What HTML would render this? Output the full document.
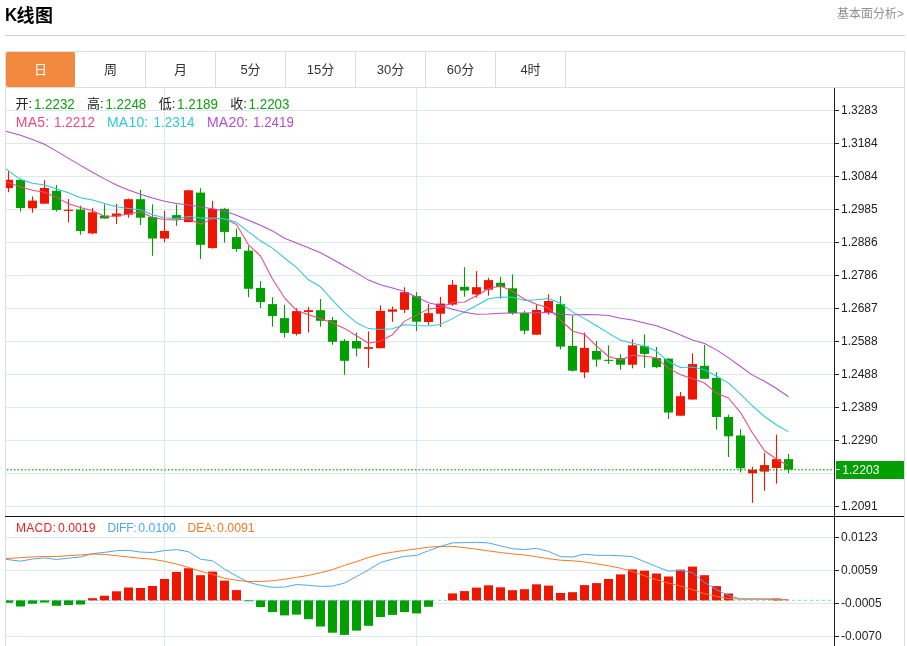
<!DOCTYPE html>
<html lang="zh"><head><meta charset="utf-8"><title>K线图</title>
<style>
html,body{margin:0;padding:0;background:#fff}
body{width:907px;height:646px;position:relative;overflow:hidden;font-family:"Liberation Sans","Noto Sans CJK SC",sans-serif;color:#222}
.title{position:absolute;left:5px;top:4px;font-size:18px;font-weight:bold;line-height:24px;color:#000;letter-spacing:-0.3px}
.k{display:inline-block;transform:translateY(-1px) scale(0.93,1.06);transform-origin:0 80%;margin-right:-1.3px}
.x{letter-spacing:0.5px}
.more{position:absolute;right:3px;top:5px;font-size:12px;line-height:18px;color:#8f8f8f}
.hr{position:absolute;left:5px;top:35px;width:900px;height:1px;background:#cfcfcf}
.box{position:absolute;left:5px;top:51px;width:898px;height:700px;border:1px solid #ddd}
.tabs{height:35px;border-bottom:1px solid #ddd;display:flex}
.tab{width:69px;height:35px;border-right:1px solid #ddd;text-align:center;line-height:35px;font-size:13px;color:#333}
.tab.on{background:#f2893e;color:#fff;border-radius:2px;border-right-color:#fff}
</style></head><body>
<div class="title"><span class="k">K</span><span class="x">线</span>图</div>
<div class="more">基本面分析&gt;</div>
<div class="hr"></div>
<div class="box"><div class="tabs"><div class="tab on">日</div><div class="tab">周</div><div class="tab">月</div><div class="tab">5分</div><div class="tab">15分</div><div class="tab">30分</div><div class="tab">60分</div><div class="tab">4时</div></div></div>
<svg width="907" height="558" viewBox="0 88 907 558" style="position:absolute;left:0;top:88px;display:block" font-family="'Liberation Sans','Noto Sans CJK SC',sans-serif">
<defs><clipPath id="cp"><rect x="6" y="88" width="828" height="558"/></clipPath></defs>
<g stroke="#dde9f1" stroke-width="1" shape-rendering="crispEdges">
<line x1="6" x2="834" y1="110.5" y2="110.5"/>
<line x1="6" x2="834" y1="143.5" y2="143.5"/>
<line x1="6" x2="834" y1="176.5" y2="176.5"/>
<line x1="6" x2="834" y1="209.5" y2="209.5"/>
<line x1="6" x2="834" y1="242.5" y2="242.5"/>
<line x1="6" x2="834" y1="275.5" y2="275.5"/>
<line x1="6" x2="834" y1="308.5" y2="308.5"/>
<line x1="6" x2="834" y1="341.5" y2="341.5"/>
<line x1="6" x2="834" y1="374.5" y2="374.5"/>
<line x1="6" x2="834" y1="407.5" y2="407.5"/>
<line x1="6" x2="834" y1="440.5" y2="440.5"/>
<line x1="6" x2="834" y1="473.5" y2="473.5"/>
<line x1="6" x2="834" y1="506.5" y2="506.5"/>
<line x1="6" x2="834" y1="537.5" y2="537.5"/>
<line x1="6" x2="834" y1="570.5" y2="570.5"/>
<line x1="6" x2="834" y1="603.5" y2="603.5"/>
<line x1="6" x2="834" y1="636.5" y2="636.5"/>
<line x1="164.5" x2="164.5" y1="88" y2="646"/>
<line x1="416.5" x2="416.5" y1="88" y2="646"/>
</g>
<line x1="6" x2="832" y1="600.4" y2="600.4" stroke="#9fd6f2" stroke-width="1.2" stroke-dasharray="3 3"/>
<g clip-path="url(#cp)">
<path d="M8.5 171.2V192.2" stroke="#ee1600" stroke-width="1.1" fill="none"/>
<rect x="4" y="179.8" width="9" height="8.4" fill="#ee1600"/>
<path d="M20.5 178.5V211.6" stroke="#00a000" stroke-width="1.1" fill="none"/>
<rect x="16" y="179.8" width="9" height="28.2" fill="#00a000"/>
<path d="M32.5 196.4V212.7" stroke="#ee1600" stroke-width="1.1" fill="none"/>
<rect x="28" y="200.6" width="9" height="7.7" fill="#ee1600"/>
<path d="M44.5 180.2V203.7" stroke="#ee1600" stroke-width="1.1" fill="none"/>
<rect x="40" y="188" width="9" height="15.7" fill="#ee1600"/>
<path d="M56.5 184.9V211.6" stroke="#00a000" stroke-width="1.1" fill="none"/>
<rect x="52" y="190.8" width="9" height="19.2" fill="#00a000"/>
<path d="M68.5 199V222.4" stroke="#ee1600" stroke-width="1.1" fill="none"/>
<rect x="64" y="209.7" width="9" height="1.2" fill="#ee1600"/>
<path d="M80.5 205.6V234.8" stroke="#00a000" stroke-width="1.1" fill="none"/>
<rect x="76" y="209.6" width="9" height="21.4" fill="#00a000"/>
<path d="M92.5 207.9V234.1" stroke="#ee1600" stroke-width="1.1" fill="none"/>
<rect x="88" y="212.3" width="9" height="21.1" fill="#ee1600"/>
<path d="M104.5 204.3V218.5" stroke="#00a000" stroke-width="1.1" fill="none"/>
<rect x="100" y="215.6" width="9" height="2.9" fill="#00a000"/>
<path d="M116.5 203.8V224" stroke="#ee1600" stroke-width="1.1" fill="none"/>
<rect x="112" y="213.5" width="9" height="3" fill="#ee1600"/>
<path d="M128.5 198.5V217.7" stroke="#ee1600" stroke-width="1.1" fill="none"/>
<rect x="124" y="199.2" width="9" height="15.5" fill="#ee1600"/>
<path d="M140.5 189.9V225" stroke="#00a000" stroke-width="1.1" fill="none"/>
<rect x="136" y="199.2" width="9" height="18.5" fill="#00a000"/>
<path d="M152.5 204.2V255.8" stroke="#00a000" stroke-width="1.1" fill="none"/>
<rect x="148" y="217" width="9" height="21.5" fill="#00a000"/>
<path d="M164.5 210.7V242.2" stroke="#ee1600" stroke-width="1.1" fill="none"/>
<rect x="160" y="230.9" width="9" height="7.7" fill="#ee1600"/>
<path d="M176.5 204.5V225.9" stroke="#00a000" stroke-width="1.1" fill="none"/>
<rect x="172" y="215.1" width="9" height="4.2" fill="#00a000"/>
<path d="M188.5 189.9V222.1" stroke="#ee1600" stroke-width="1.1" fill="none"/>
<rect x="184" y="190.3" width="9" height="31.8" fill="#ee1600"/>
<path d="M200.5 188.2V259" stroke="#00a000" stroke-width="1.1" fill="none"/>
<rect x="196" y="192.6" width="9" height="52.2" fill="#00a000"/>
<path d="M212.5 200.9V248.5" stroke="#ee1600" stroke-width="1.1" fill="none"/>
<rect x="208" y="208.8" width="9" height="39.3" fill="#ee1600"/>
<path d="M224.5 207.8V242.6" stroke="#00a000" stroke-width="1.1" fill="none"/>
<rect x="220" y="208.8" width="9" height="23.1" fill="#00a000"/>
<path d="M236.5 228.6V251.8" stroke="#00a000" stroke-width="1.1" fill="none"/>
<rect x="232" y="237.1" width="9" height="11.9" fill="#00a000"/>
<path d="M248.5 246.1V297.1" stroke="#00a000" stroke-width="1.1" fill="none"/>
<rect x="244" y="250.7" width="9" height="38.1" fill="#00a000"/>
<path d="M260.5 281.1V308" stroke="#00a000" stroke-width="1.1" fill="none"/>
<rect x="256" y="288" width="9" height="14.1" fill="#00a000"/>
<path d="M272.5 297.2V326.7" stroke="#00a000" stroke-width="1.1" fill="none"/>
<rect x="268" y="304.1" width="9" height="11.9" fill="#00a000"/>
<path d="M284.5 304.9V337.6" stroke="#00a000" stroke-width="1.1" fill="none"/>
<rect x="280" y="318.1" width="9" height="14.8" fill="#00a000"/>
<path d="M296.5 308.2V335.6" stroke="#ee1600" stroke-width="1.1" fill="none"/>
<rect x="292" y="311.1" width="9" height="22.8" fill="#ee1600"/>
<path d="M308.5 307.1V332.5" stroke="#ee1600" stroke-width="1.1" fill="none"/>
<rect x="304" y="310.2" width="9" height="1.8" fill="#ee1600"/>
<path d="M320.5 299V326.6" stroke="#00a000" stroke-width="1.1" fill="none"/>
<rect x="316" y="310.2" width="9" height="10.6" fill="#00a000"/>
<path d="M332.5 317V344.8" stroke="#00a000" stroke-width="1.1" fill="none"/>
<rect x="328" y="320.1" width="9" height="21.7" fill="#00a000"/>
<path d="M344.5 339V374.7" stroke="#00a000" stroke-width="1.1" fill="none"/>
<rect x="340" y="340.8" width="9" height="20" fill="#00a000"/>
<path d="M356.5 332.4V356.4" stroke="#00a000" stroke-width="1.1" fill="none"/>
<rect x="352" y="341" width="9" height="7.5" fill="#00a000"/>
<path d="M368.5 331.4V367.8" stroke="#ee1600" stroke-width="1.1" fill="none"/>
<rect x="364" y="347.2" width="9" height="1.7" fill="#ee1600"/>
<path d="M380.5 305.5V348.2" stroke="#ee1600" stroke-width="1.1" fill="none"/>
<rect x="376" y="310.9" width="9" height="37.3" fill="#ee1600"/>
<path d="M392.5 306.5V321.8" stroke="#ee1600" stroke-width="1.1" fill="none"/>
<rect x="388" y="309.4" width="9" height="2.3" fill="#ee1600"/>
<path d="M404.5 287.2V313" stroke="#ee1600" stroke-width="1.1" fill="none"/>
<rect x="400" y="292.2" width="9" height="17.6" fill="#ee1600"/>
<path d="M416.5 292V331" stroke="#00a000" stroke-width="1.1" fill="none"/>
<rect x="412" y="296.2" width="9" height="25.5" fill="#00a000"/>
<path d="M428.5 304V324.9" stroke="#ee1600" stroke-width="1.1" fill="none"/>
<rect x="424" y="313.2" width="9" height="8.8" fill="#ee1600"/>
<path d="M440.5 296.9V326.9" stroke="#ee1600" stroke-width="1.1" fill="none"/>
<rect x="436" y="303.6" width="9" height="10.1" fill="#ee1600"/>
<path d="M452.5 280.1V305.9" stroke="#ee1600" stroke-width="1.1" fill="none"/>
<rect x="448" y="284.8" width="9" height="19.8" fill="#ee1600"/>
<path d="M464.5 267.2V296.7" stroke="#00a000" stroke-width="1.1" fill="none"/>
<rect x="460" y="286.8" width="9" height="3.7" fill="#00a000"/>
<path d="M476.5 271.1V297.6" stroke="#ee1600" stroke-width="1.1" fill="none"/>
<rect x="472" y="287.2" width="9" height="7.2" fill="#ee1600"/>
<path d="M488.5 277.8V295.6" stroke="#ee1600" stroke-width="1.1" fill="none"/>
<rect x="484" y="280.1" width="9" height="9.6" fill="#ee1600"/>
<path d="M500.5 276.8V298.9" stroke="#00a000" stroke-width="1.1" fill="none"/>
<rect x="496" y="282.8" width="9" height="4.4" fill="#00a000"/>
<path d="M512.5 274.4V314.8" stroke="#00a000" stroke-width="1.1" fill="none"/>
<rect x="508" y="288.3" width="9" height="24.9" fill="#00a000"/>
<path d="M524.5 310.8V334.1" stroke="#00a000" stroke-width="1.1" fill="none"/>
<rect x="520" y="313" width="9" height="17.7" fill="#00a000"/>
<path d="M536.5 304.6V334.7" stroke="#ee1600" stroke-width="1.1" fill="none"/>
<rect x="532" y="309.9" width="9" height="24.8" fill="#ee1600"/>
<path d="M548.5 294.3V314.8" stroke="#ee1600" stroke-width="1.1" fill="none"/>
<rect x="544" y="301" width="9" height="11.8" fill="#ee1600"/>
<path d="M560.5 296.1V349.5" stroke="#00a000" stroke-width="1.1" fill="none"/>
<rect x="556" y="304.1" width="9" height="42.5" fill="#00a000"/>
<path d="M572.5 315.5V371.7" stroke="#00a000" stroke-width="1.1" fill="none"/>
<rect x="568" y="345.9" width="9" height="24.8" fill="#00a000"/>
<path d="M584.5 332.7V378.1" stroke="#ee1600" stroke-width="1.1" fill="none"/>
<rect x="580" y="347.9" width="9" height="24.5" fill="#ee1600"/>
<path d="M596.5 341V366.7" stroke="#00a000" stroke-width="1.1" fill="none"/>
<rect x="592" y="351" width="9" height="8.6" fill="#00a000"/>
<path d="M608.5 345.3V363.8" stroke="#00a000" stroke-width="1.1" fill="none"/>
<rect x="604" y="359.8" width="9" height="1.1" fill="#00a000"/>
<path d="M620.5 354.3V369.8" stroke="#00a000" stroke-width="1.1" fill="none"/>
<rect x="616" y="358.2" width="9" height="6.5" fill="#00a000"/>
<path d="M632.5 339.3V368.4" stroke="#ee1600" stroke-width="1.1" fill="none"/>
<rect x="628" y="345.3" width="9" height="19.4" fill="#ee1600"/>
<path d="M644.5 334.4V367.8" stroke="#00a000" stroke-width="1.1" fill="none"/>
<rect x="640" y="346.2" width="9" height="7.7" fill="#00a000"/>
<path d="M656.5 347V368.2" stroke="#00a000" stroke-width="1.1" fill="none"/>
<rect x="652" y="358.1" width="9" height="9" fill="#00a000"/>
<path d="M668.5 358.3V419" stroke="#00a000" stroke-width="1.1" fill="none"/>
<rect x="664" y="358.6" width="9" height="53.9" fill="#00a000"/>
<path d="M680.5 392V415.7" stroke="#ee1600" stroke-width="1.1" fill="none"/>
<rect x="676" y="396.2" width="9" height="19.5" fill="#ee1600"/>
<path d="M692.5 353.2V399.9" stroke="#ee1600" stroke-width="1.1" fill="none"/>
<rect x="688" y="364.1" width="9" height="35.4" fill="#ee1600"/>
<path d="M704.5 345V378.8" stroke="#00a000" stroke-width="1.1" fill="none"/>
<rect x="700" y="365.8" width="9" height="13" fill="#00a000"/>
<path d="M716.5 372.2V429.5" stroke="#00a000" stroke-width="1.1" fill="none"/>
<rect x="712" y="378" width="9" height="39" fill="#00a000"/>
<path d="M728.5 414.7V457" stroke="#00a000" stroke-width="1.1" fill="none"/>
<rect x="724" y="417" width="9" height="19.3" fill="#00a000"/>
<path d="M740.5 429.2V472.4" stroke="#00a000" stroke-width="1.1" fill="none"/>
<rect x="736" y="435.5" width="9" height="32.8" fill="#00a000"/>
<path d="M752.5 466.7V502.8" stroke="#ee1600" stroke-width="1.1" fill="none"/>
<rect x="748" y="469.6" width="9" height="3.7" fill="#ee1600"/>
<path d="M764.5 453V490.8" stroke="#ee1600" stroke-width="1.1" fill="none"/>
<rect x="760" y="465.1" width="9" height="6.5" fill="#ee1600"/>
<path d="M776.5 434.6V483.6" stroke="#ee1600" stroke-width="1.1" fill="none"/>
<rect x="772" y="459.1" width="9" height="8.9" fill="#ee1600"/>
<path d="M788.5 453.9V473.3" stroke="#00a000" stroke-width="1.1" fill="none"/>
<rect x="784" y="459.1" width="9" height="10.5" fill="#00a000"/>
<line x1="6" x2="834" y1="469.7" y2="469.7" stroke="#00a000" stroke-width="1.5" stroke-dasharray="1.5 2.08" stroke-dashoffset="2.7" stroke-opacity="0.8"/>
<path d="M6 181.8 L20.5 187.1 L32.5 190.2 L44.5 192.2 L56.5 197.4 L68.5 203.7 L80.5 207.6 L92.5 210.7 L104.5 216.2 L116.5 215.9 L128.5 214.1 L140.5 211.8 L152.5 217.4 L164.5 219.4 L176.5 220.1 L188.5 218.8 L200.5 224.3 L212.5 218.6 L224.5 218.6 L236.5 224.5 L248.5 244.8 L260.5 256 L272.5 279 L284.5 297.8 L296.5 310.4 L308.5 314.7 L320.5 318.4 L332.5 323 L344.5 328.4 L356.5 335.8 L368.5 343.2 L380.5 340.9 L392.5 334.7 L404.5 321.1 L416.5 315.1 L428.5 308.9 L440.5 307.6 L452.5 302.5 L464.5 302 L476.5 295.8 L488.5 288.7 L500.5 285.7 L512.5 291.4 L524.5 299.3 L536.5 304.2 L548.5 307.9 L560.5 320 L572.5 331 L584.5 334.4 L596.5 345.9 L608.5 356.5 L620.5 360.1 L632.5 355.2 L644.5 356.3 L656.5 357.8 L668.5 368.4 L680.5 374.7 L692.5 378.4 L704.5 383 L716.5 393.3 L728.5 398 L740.5 412.6 L752.5 433 L764.5 450.8 L776.5 459 L788.5 465.8" stroke="#f0487c" stroke-width="1.05" fill="none" stroke-linejoin="round"/>
<path d="M6 168.8 L20.5 179.6 L32.5 183.2 L44.5 185.1 L56.5 188.8 L68.5 192.8 L80.5 197.7 L92.5 200.1 L104.5 203.4 L116.5 206.8 L128.5 208.4 L140.5 209.8 L152.5 214.7 L164.5 217.7 L176.5 218.4 L188.5 216.4 L200.5 218.1 L212.5 218.1 L224.5 218.8 L236.5 222.3 L248.5 231.9 L260.5 240.8 L272.5 248.1 L284.5 258 L296.5 267.3 L308.5 279.8 L320.5 286.8 L332.5 300.2 L344.5 312.7 L356.5 322.8 L368.5 328.6 L380.5 329.4 L392.5 328.8 L404.5 324.7 L416.5 325.5 L428.5 326 L440.5 324.4 L452.5 318.6 L464.5 311.9 L476.5 305.5 L488.5 298.7 L500.5 297.1 L512.5 297.3 L524.5 300.6 L536.5 299.7 L548.5 298.4 L560.5 303.2 L572.5 311.9 L584.5 318.6 L596.5 325.7 L608.5 333.1 L620.5 340.2 L632.5 343.3 L644.5 345.9 L656.5 351.2 L668.5 361.8 L680.5 367.5 L692.5 366.9 L704.5 369.8 L716.5 376 L728.5 383.1 L740.5 394.2 L752.5 406 L764.5 416.5 L776.5 425 L788.5 431.6" stroke="#2fc6e0" stroke-width="1.05" fill="none" stroke-linejoin="round"/>
<path d="M6 131.2 L20.5 135.2 L32.5 139.6 L44.5 144.2 L56.5 151.1 L68.5 158.4 L80.5 165.4 L92.5 172.3 L104.5 178.9 L116.5 185 L128.5 189.9 L140.5 194.3 L152.5 197.9 L164.5 201.2 L176.5 203.6 L188.5 204.9 L200.5 207.1 L212.5 208.8 L224.5 211.1 L236.5 215.3 L248.5 220.3 L260.5 225.3 L272.5 230.9 L284.5 238.2 L296.5 243 L308.5 247.8 L320.5 252.7 L332.5 259.3 L344.5 266 L356.5 272.9 L368.5 280.1 L380.5 284.8 L392.5 288.1 L404.5 291.4 L416.5 296.9 L428.5 302.8 L440.5 305.5 L452.5 309.2 L464.5 312.2 L476.5 314.3 L488.5 313.9 L500.5 313.2 L512.5 313 L524.5 313 L536.5 312.8 L548.5 312.6 L560.5 314 L572.5 315.1 L584.5 314.6 L596.5 314.8 L608.5 315.5 L620.5 318.2 L632.5 320.1 L644.5 323 L656.5 325.7 L668.5 330.1 L680.5 335 L692.5 340 L704.5 343.5 L716.5 349.9 L728.5 357.9 L740.5 366.5 L752.5 375.1 L764.5 381.3 L776.5 388.5 L788.5 396.8" stroke="#b44fc8" stroke-width="1.05" fill="none" stroke-linejoin="round"/>
<rect x="4" y="600.4" width="9" height="2.4" fill="#00a000"/>
<rect x="16" y="600.4" width="9" height="6.1" fill="#00a000"/>
<rect x="28" y="600.4" width="9" height="3.3" fill="#00a000"/>
<rect x="40" y="600.4" width="9" height="2.1" fill="#00a000"/>
<rect x="52" y="600.4" width="9" height="5.4" fill="#00a000"/>
<rect x="64" y="600.4" width="9" height="4.6" fill="#00a000"/>
<rect x="76" y="600.4" width="9" height="4.1" fill="#00a000"/>
<rect x="88" y="598.2" width="9" height="2.2" fill="#ee1600"/>
<rect x="100" y="595.7" width="9" height="4.7" fill="#ee1600"/>
<rect x="112" y="591.3" width="9" height="9.1" fill="#ee1600"/>
<rect x="124" y="587.5" width="9" height="12.9" fill="#ee1600"/>
<rect x="136" y="588" width="9" height="12.4" fill="#ee1600"/>
<rect x="148" y="586" width="9" height="14.4" fill="#ee1600"/>
<rect x="160" y="579" width="9" height="21.4" fill="#ee1600"/>
<rect x="172" y="571.9" width="9" height="28.5" fill="#ee1600"/>
<rect x="184" y="568.2" width="9" height="32.2" fill="#ee1600"/>
<rect x="196" y="575.2" width="9" height="25.2" fill="#ee1600"/>
<rect x="208" y="571.6" width="9" height="28.8" fill="#ee1600"/>
<rect x="220" y="580.6" width="9" height="19.8" fill="#ee1600"/>
<rect x="232" y="590.1" width="9" height="10.3" fill="#ee1600"/>
<rect x="244" y="600.4" width="9" height="0.9" fill="#00a000"/>
<rect x="256" y="600.4" width="9" height="6.7" fill="#00a000"/>
<rect x="268" y="600.4" width="9" height="11.7" fill="#00a000"/>
<rect x="280" y="600.4" width="9" height="15" fill="#00a000"/>
<rect x="292" y="600.4" width="9" height="14.2" fill="#00a000"/>
<rect x="304" y="600.4" width="9" height="18.8" fill="#00a000"/>
<rect x="316" y="600.4" width="9" height="26.1" fill="#00a000"/>
<rect x="328" y="600.4" width="9" height="32.3" fill="#00a000"/>
<rect x="340" y="600.4" width="9" height="34.5" fill="#00a000"/>
<rect x="352" y="600.4" width="9" height="30.2" fill="#00a000"/>
<rect x="364" y="600.4" width="9" height="25.4" fill="#00a000"/>
<rect x="376" y="600.4" width="9" height="16.6" fill="#00a000"/>
<rect x="388" y="600.4" width="9" height="14.5" fill="#00a000"/>
<rect x="400" y="600.4" width="9" height="11.7" fill="#00a000"/>
<rect x="412" y="600.4" width="9" height="13" fill="#00a000"/>
<rect x="424" y="600.4" width="9" height="6.4" fill="#00a000"/>
<rect x="448" y="593.4" width="9" height="7" fill="#ee1600"/>
<rect x="460" y="591.1" width="9" height="9.3" fill="#ee1600"/>
<rect x="472" y="587.6" width="9" height="12.8" fill="#ee1600"/>
<rect x="484" y="585.3" width="9" height="15.1" fill="#ee1600"/>
<rect x="496" y="587.3" width="9" height="13.1" fill="#ee1600"/>
<rect x="508" y="590.2" width="9" height="10.2" fill="#ee1600"/>
<rect x="520" y="589.2" width="9" height="11.2" fill="#ee1600"/>
<rect x="532" y="584.3" width="9" height="16.1" fill="#ee1600"/>
<rect x="544" y="585.6" width="9" height="14.8" fill="#ee1600"/>
<rect x="556" y="593" width="9" height="7.4" fill="#ee1600"/>
<rect x="568" y="592.2" width="9" height="8.2" fill="#ee1600"/>
<rect x="580" y="585.1" width="9" height="15.3" fill="#ee1600"/>
<rect x="592" y="583.1" width="9" height="17.3" fill="#ee1600"/>
<rect x="604" y="579" width="9" height="21.4" fill="#ee1600"/>
<rect x="616" y="574.4" width="9" height="26" fill="#ee1600"/>
<rect x="628" y="569.4" width="9" height="31" fill="#ee1600"/>
<rect x="640" y="570.7" width="9" height="29.7" fill="#ee1600"/>
<rect x="652" y="573.5" width="9" height="26.9" fill="#ee1600"/>
<rect x="664" y="576.5" width="9" height="23.9" fill="#ee1600"/>
<rect x="676" y="569.6" width="9" height="30.8" fill="#ee1600"/>
<rect x="688" y="566.6" width="9" height="33.8" fill="#ee1600"/>
<rect x="700" y="575.2" width="9" height="25.2" fill="#ee1600"/>
<rect x="712" y="586.1" width="9" height="14.3" fill="#ee1600"/>
<rect x="724" y="593.5" width="9" height="6.9" fill="#ee1600"/>
<rect x="772" y="598.6" width="9" height="1.8" fill="#ee1600"/>
<path d="M6 559.3 L20.5 561.2 L32.5 559 L44.5 557.9 L56.5 559.5 L68.5 558.2 L80.5 557 L92.5 553.6 L104.5 552.4 L116.5 550.7 L128.5 550.3 L140.5 552.1 L152.5 552.5 L164.5 550.6 L176.5 549.6 L188.5 551.7 L200.5 559.2 L212.5 560.8 L224.5 569.1 L236.5 576 L248.5 582.3 L260.5 585.3 L272.5 587.3 L284.5 587.1 L296.5 584.5 L308.5 585.3 L320.5 586.4 L332.5 586.1 L344.5 583.1 L356.5 576.5 L368.5 569.9 L380.5 562.5 L392.5 559.2 L404.5 556.3 L416.5 555.5 L428.5 550.7 L440.5 546.4 L452.5 542.9 L464.5 542.6 L476.5 542.3 L488.5 542.9 L500.5 545.9 L512.5 548.7 L524.5 549.6 L536.5 548.4 L548.5 551.4 L560.5 556.7 L572.5 557 L584.5 554.2 L596.5 555.3 L608.5 555.3 L620.5 555.8 L632.5 556.7 L644.5 561.6 L656.5 566.6 L668.5 571.1 L680.5 570.4 L692.5 572.7 L704.5 582.4 L716.5 589.7 L728.5 595.5 L740.5 598.8 L752.5 598.9 L764.5 598.9 L776.5 599 L788.5 599.7" stroke="#4da8f2" stroke-width="1" fill="none" stroke-linejoin="round"/>
<path d="M6 558.5 L20.5 557.7 L32.5 556.9 L44.5 556.5 L56.5 556.5 L68.5 555.7 L80.5 554.9 L92.5 554.1 L104.5 554.4 L116.5 555.7 L128.5 557 L140.5 558.3 L152.5 559.2 L164.5 561.3 L176.5 564.1 L188.5 567.4 L200.5 571.2 L212.5 574.4 L224.5 578.2 L236.5 580.3 L248.5 581.5 L260.5 581.5 L272.5 580.7 L284.5 579.3 L296.5 577.3 L308.5 575.4 L320.5 572.7 L332.5 569.6 L344.5 565.4 L356.5 561.6 L368.5 557.5 L380.5 554.2 L392.5 552.2 L404.5 550.4 L416.5 548.9 L428.5 547.2 L440.5 546.4 L452.5 546.4 L464.5 547.6 L476.5 549.2 L488.5 550.9 L500.5 552.5 L512.5 553.9 L524.5 555 L536.5 556.7 L548.5 558.7 L560.5 560.2 L572.5 560.8 L584.5 562 L596.5 563.8 L608.5 565.8 L620.5 568.2 L632.5 571.6 L644.5 575.7 L656.5 579.8 L668.5 583.1 L680.5 586.1 L692.5 589.7 L704.5 593.7 L716.5 596.4 L728.5 598.5 L740.5 599.2 L752.5 599.2 L764.5 599.2 L776.5 599.4 L788.5 600.1" stroke="#f67a22" stroke-width="1" fill="none" stroke-linejoin="round"/>
</g>
<g shape-rendering="crispEdges">
<line x1="5" x2="904" y1="516.5" y2="516.5" stroke="#111" stroke-width="1"/>
<line x1="834.5" x2="834.5" y1="88" y2="646" stroke="#222" stroke-width="1"/>
<line x1="835" x2="839" y1="110.5" y2="110.5" stroke="#222" stroke-width="1"/>
<line x1="835" x2="839" y1="143.5" y2="143.5" stroke="#222" stroke-width="1"/>
<line x1="835" x2="839" y1="176.5" y2="176.5" stroke="#222" stroke-width="1"/>
<line x1="835" x2="839" y1="209.5" y2="209.5" stroke="#222" stroke-width="1"/>
<line x1="835" x2="839" y1="242.5" y2="242.5" stroke="#222" stroke-width="1"/>
<line x1="835" x2="839" y1="275.5" y2="275.5" stroke="#222" stroke-width="1"/>
<line x1="835" x2="839" y1="308.5" y2="308.5" stroke="#222" stroke-width="1"/>
<line x1="835" x2="839" y1="341.5" y2="341.5" stroke="#222" stroke-width="1"/>
<line x1="835" x2="839" y1="374.5" y2="374.5" stroke="#222" stroke-width="1"/>
<line x1="835" x2="839" y1="407.5" y2="407.5" stroke="#222" stroke-width="1"/>
<line x1="835" x2="839" y1="440.5" y2="440.5" stroke="#222" stroke-width="1"/>
<line x1="835" x2="839" y1="506.5" y2="506.5" stroke="#222" stroke-width="1"/>
<line x1="835" x2="839" y1="537.5" y2="537.5" stroke="#222" stroke-width="1"/>
<line x1="835" x2="839" y1="570.5" y2="570.5" stroke="#222" stroke-width="1"/>
<line x1="835" x2="839" y1="603.5" y2="603.5" stroke="#222" stroke-width="1"/>
<line x1="835" x2="839" y1="636.5" y2="636.5" stroke="#222" stroke-width="1"/>
<line x1="835" x2="839" y1="469.5" y2="469.5" stroke="#222" stroke-width="1"/>
</g>
<rect x="836" y="461" width="68" height="18" fill="#00a000"/>
<line x1="835" x2="840" y1="469.5" y2="469.5" stroke="#fff" stroke-width="1" shape-rendering="crispEdges"/>
<g font-size="12" fill="#222">
<text x="841" y="114.2">1.3283</text>
<text x="841" y="147.2">1.3184</text>
<text x="841" y="180.2">1.3084</text>
<text x="841" y="213.2">1.2985</text>
<text x="841" y="246.2">1.2886</text>
<text x="841" y="279.2">1.2786</text>
<text x="841" y="312.2">1.2687</text>
<text x="841" y="345.2">1.2588</text>
<text x="841" y="378.2">1.2488</text>
<text x="841" y="411.2">1.2389</text>
<text x="841" y="444.2">1.2290</text>
<text x="841" y="510.2">1.2091</text>
<text x="841" y="541.2">0.0123</text>
<text x="841" y="574.2">0.0059</text>
<text x="841" y="607.2">-0.0005</text>
<text x="841" y="640.2">-0.0070</text>
<text x="842.2" y="473.9" fill="#fff" font-size="12.2">1.2203</text>
</g>
<g font-size="13">
<text x="15.5" y="108.4" fill="#222">开:</text><text transform="translate(33.9 108.8) scale(0.955 1)" fill="#10a010" font-size="14">1.2232</text>
<text x="87" y="108.4" fill="#222">高:</text><text transform="translate(105.4 108.8) scale(0.955 1)" fill="#10a010" font-size="14">1.2248</text>
<text x="158.7" y="108.4" fill="#222">低:</text><text transform="translate(177.1 108.8) scale(0.955 1)" fill="#10a010" font-size="14">1.2189</text>
<text x="230.2" y="108.4" fill="#222">收:</text><text transform="translate(248.6 108.8) scale(0.955 1)" fill="#10a010" font-size="14">1.2203</text>
<text x="15.8" y="127" fill="#f0487c" font-size="14" letter-spacing="0.2">MA5:</text><text transform="translate(54.1 127) scale(0.955 1)" fill="#f0487c" font-size="14">1.2212</text>
<text x="107" y="127" fill="#2fc6e0" font-size="14" letter-spacing="0.2">MA10:</text><text transform="translate(153.6 127) scale(0.955 1)" fill="#2fc6e0" font-size="14">1.2314</text>
<text x="207" y="127" fill="#b44fc8" font-size="14" letter-spacing="0.2">MA20:</text><text transform="translate(253 127) scale(0.955 1)" fill="#b44fc8" font-size="14">1.2419</text>
</g>
<g font-size="12">
<text x="15.9" y="531.6" fill="#ee2020" letter-spacing="0.3">MACD:</text><text x="57.9" y="531.6" fill="#ee2020" font-size="12.3">0.0019</text>
<text x="107.5" y="531.6" fill="#4da8f2" letter-spacing="-0.2">DIFF:</text><text x="138.3" y="531.6" fill="#4da8f2" font-size="12.3">0.0100</text>
<text x="187.5" y="531.6" fill="#f67a22" letter-spacing="0">DEA:</text><text x="217.1" y="531.6" fill="#f67a22" font-size="12.3">0.0091</text>
</g>
</svg>
</body></html>
